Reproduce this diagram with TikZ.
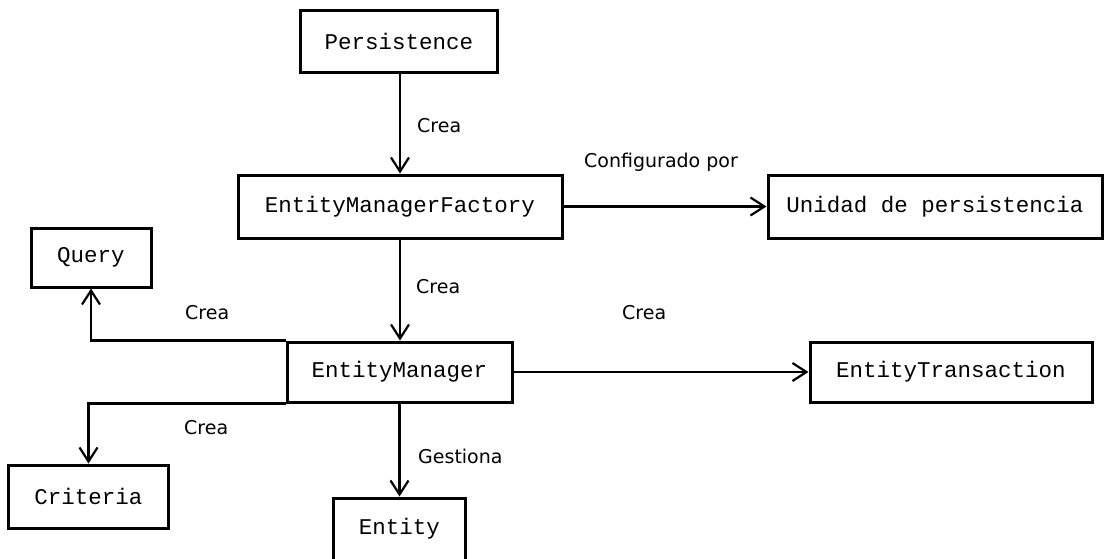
\documentclass[tikz,border=0pt]{standalone}
\usepackage{fontspec}
\setmonofont{Liberation Mono}
\newfontfamily\labelfont{DejaVu Sans}
\usetikzlibrary{arrows.meta}
\begin{document}
\begin{tikzpicture}[x=1pt,y=-1pt,
  box/.style={draw,line width=3pt,rectangle,inner sep=0pt,
    font=\ttfamily\fontsize{22.5}{26}\selectfont},
  link/.style={line width=2.8pt,
    -{Straight Barb[length=14pt,width=18pt,line width=2.2pt]}},
  lbl/.style={font=\labelfont\fontsize{19}{22}\selectfont,anchor=west,inner sep=0pt}]
\useasboundingbox (0,0) rectangle (1105,558);
\begin{scope}
\clip (0,0) rectangle (1105,558);
% classes
\node[box,minimum width=197pt,minimum height=62pt] (pers) at (399,41) {Persistence};
\node[box,minimum width=324pt,minimum height=63pt] (emf) at (400,206.5) {EntityManagerFactory};
\node[box,minimum width=334pt,minimum height=63pt] (unit) at (935,206.5) {Unidad de persistencia};
\node[box,minimum width=120pt,minimum height=59pt] (query) at (91,257.5) {Query};
\node[box,minimum width=225pt,minimum height=60pt] (em) at (399.5,372) {EntityManager};
\node[box,minimum width=282pt,minimum height=60pt] (tx) at (951,372) {EntityTransaction};
\node[box,minimum width=160pt,minimum height=63pt] (crit) at (88.5,496.5) {Criteria};
\node[box,minimum width=132pt,minimum height=62pt] (ent) at (399.5,529) {Entity};
% relations
\draw[link] (emf.north |- pers.south) -- (emf.north);
\draw[link] (emf.south) -- (emf.south |- em.north);
\draw[link] (emf.east) -- (unit.west);
\draw[link] (em.east) -- (tx.west);
\draw[link] (em.north west) -- (em.north west -| query.south) -- (query.south);
\draw[link] (em.south west) -- (em.south west -| crit.north) -- (crit.north);
\draw[link] (em.south) -- (em.south |- ent.north);
% labels
\node[lbl] (l1) at (417,126) {Crea};
\node[lbl] (l2) at (584,162) {Configurado por};
\node[lbl] (l3) at (416,287) {Crea};
\node[lbl] (l4) at (185,313) {Crea};
\node[lbl] (l5) at (622,313) {Crea};
\node[lbl] (l6) at (184,428) {Crea};
\node[lbl] (l7) at (418,456) {Gestiona};
\end{scope}
\end{tikzpicture}
\end{document}
